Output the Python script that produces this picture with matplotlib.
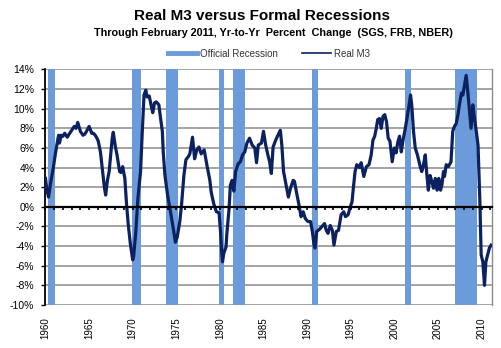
import matplotlib
matplotlib.use('Agg')
import matplotlib.pyplot as plt
from matplotlib.lines import Line2D

plt.rcParams['font.family'] = ['Liberation Sans', 'DejaVu Sans']

# Real M3, year-over-year percent change (decimal year, percent)
years = [
    1960.0, 1960.15, 1960.35, 1960.6, 1960.9, 1961.1, 1961.3, 1961.5, 1961.6, 1961.8,
    1962.0, 1962.2, 1962.5, 1962.7, 1963.0, 1963.3, 1963.5, 1963.7, 1964.0, 1964.3,
    1964.5, 1964.7, 1965.0, 1965.3, 1965.5, 1965.7, 1965.9, 1966.05, 1966.3, 1966.5,
    1966.75, 1966.9, 1967.1, 1967.3, 1967.5, 1967.65, 1967.77, 1968.0, 1968.2, 1968.5,
    1968.65, 1968.85, 1969.1, 1969.3, 1969.5, 1969.75, 1970.0, 1970.1, 1970.35, 1970.6,
    1970.9, 1971.1, 1971.3, 1971.5, 1971.65, 1971.9, 1972.1, 1972.3, 1972.5, 1972.7,
    1973.0, 1973.2, 1973.4, 1973.5, 1973.7, 1974.0, 1974.2, 1974.6, 1974.9, 1975.1,
    1975.4, 1975.6, 1975.87, 1976.1, 1976.36, 1976.55, 1976.86, 1977.1, 1977.35, 1977.6,
    1977.85, 1978.2, 1978.5, 1978.85, 1979.0, 1979.3, 1979.6, 1979.9, 1980.07, 1980.2,
    1980.3, 1980.45, 1980.7, 1980.8, 1981.05, 1981.2, 1981.4, 1981.6, 1981.8, 1982.1,
    1982.35, 1982.6, 1982.85, 1983.1, 1983.4, 1983.7, 1984.0, 1984.2, 1984.4, 1984.76,
    1985.0, 1985.25, 1985.5, 1985.7, 1985.9, 1986.1, 1986.4, 1986.65, 1986.93, 1987.1,
    1987.3, 1987.6, 1987.85, 1988.1, 1988.4, 1988.55, 1988.8, 1989.07, 1989.3, 1989.55,
    1989.8, 1990.1, 1990.4, 1990.6, 1990.8, 1990.9, 1991.1, 1991.4, 1991.7, 1992.0,
    1992.2, 1992.4, 1992.65, 1992.9, 1993.08, 1993.35, 1993.6, 1993.9, 1994.2, 1994.4,
    1994.7, 1994.95, 1995.15, 1995.3, 1995.5, 1995.7, 1996.0, 1996.2, 1996.5, 1996.8,
    1997.1, 1997.35, 1997.55, 1997.75, 1997.93, 1998.1, 1998.3, 1998.5, 1998.7, 1998.9,
    1999.1, 1999.3, 1999.5, 1999.76, 2000.0, 2000.2, 2000.4, 2000.6, 2000.8, 2001.0,
    2001.2, 2001.45, 2001.7, 2001.86, 2002.0, 2002.2, 2002.4, 2002.65, 2002.97, 2003.15,
    2003.35, 2003.55, 2003.7, 2003.9, 2004.1, 2004.3, 2004.5, 2004.7, 2004.9, 2005.1,
    2005.2, 2005.3, 2005.45, 2005.64, 2005.76, 2005.95, 2006.2, 2006.5, 2006.7, 2006.9,
    2007.1, 2007.3, 2007.5, 2007.7, 2007.86, 2008.05, 2008.24, 2008.43, 2008.6, 2008.8,
    2009.0, 2009.2, 2009.4, 2009.6, 2009.8, 2009.96, 2010.15, 2010.34, 2010.5, 2010.7,
    2010.9, 2011.1,
]
real_m3 = [
    2.9, 1.8, 1.0, 2.5, 4.0, 5.2, 6.3, 7.3, 6.5, 7.3,
    7.2, 7.5, 7.1, 7.4, 7.8, 8.2, 8.0, 8.6, 7.7, 7.3,
    7.4, 7.7, 8.2, 7.5, 7.5, 7.3, 7.0, 6.7, 5.6, 4.0,
    2.0, 1.2, 2.7, 3.6, 5.6, 7.0, 7.6, 6.2, 5.3, 3.6,
    3.5, 4.1, 2.9, 0.2, -1.9, -3.9, -5.4, -5.1, -2.6, 0.9,
    3.6, 7.7, 11.4, 11.9, 11.2, 11.3, 10.4, 9.6, 10.6, 10.7,
    10.4, 9.0, 7.7, 5.6, 3.2, 1.2, 0.2, -1.9, -3.6, -3.1,
    -1.5, 0.2, 3.2, 4.8, 5.1, 5.4, 7.1, 4.9, 5.8, 6.1,
    5.4, 5.8, 4.3, 2.7, 1.5, 0.3, -0.5, -0.6, -2.5, -4.6,
    -5.6, -4.7, -4.1, -2.7, -0.2, 2.2, 2.7, 1.6, 3.6, 4.4,
    4.6, 5.3, 5.6, 6.5, 7.0, 6.3, 6.0, 4.5, 6.3, 6.5,
    7.7, 6.3, 5.3, 4.6, 3.4, 6.1, 6.8, 7.3, 7.8, 6.3,
    3.6, 2.2, 1.0, 1.9, 2.7, 2.6, 1.4, 0.2, -1.0, -0.5,
    -1.2, -1.5, -1.5, -2.5, -3.9, -4.2, -2.5, -2.3, -2.0, -1.7,
    -2.4, -2.7, -1.9, -2.4, -3.9, -2.5, -2.4, -0.8, -0.5, -1.0,
    -0.8, 0.0, 0.5, 1.9, 3.6, 4.3, 4.0, 4.5, 3.1, 4.1,
    4.3, 5.3, 6.8, 7.2, 8.0, 8.9, 9.0, 8.0, 9.2, 9.4,
    8.7, 7.0, 6.7, 4.6, 6.0, 5.5, 6.6, 7.2, 5.6, 6.8,
    7.7, 9.0, 10.4, 11.4, 10.4, 7.7, 6.0, 5.3, 4.1, 3.6,
    4.3, 5.3, 3.6, 1.7, 3.2, 2.6, 1.9, 2.9, 1.7, 2.9,
    2.1, 1.7, 2.2, 3.6, 3.1, 4.3, 4.1, 4.6, 7.7, 8.2,
    8.5, 9.4, 10.6, 11.6, 11.4, 12.4, 13.4, 11.7, 10.0, 8.0,
    10.4, 9.0, 7.7, 6.3, 0.9, -4.9, -5.6, -8.0, -5.6, -4.9,
    -4.2, -3.9,
]

# NBER recession periods (start, end) as decimal years
recession_start = [1960.25, 1969.92, 1973.85, 1979.95, 1981.45, 1990.55, 2001.2, 2007.0]
recession_end = [1961.05, 1970.9, 1975.15, 1980.5, 1982.85, 1991.25, 2001.9, 2009.5]

year_ticks = [1960, 1965, 1970, 1975, 1980, 1985, 1990, 1995, 2000, 2005, 2010]
pct_ticks = [-10, -8, -6, -4, -2, 0, 2, 4, 6, 8, 10, 12, 14]

band_color = '#6B9BDB'
line_color = '#0B2160'
grid_color = '#8C8C8C'

fig = plt.figure(figsize=(5.01, 3.48), dpi=100)
ax = fig.add_axes([0.0908, 0.1236, 0.8912, 0.6767])

# Recession shading
for start, end in zip(recession_start, recession_end):
    ax.axvspan(start, end, color=band_color, lw=0, zorder=1)

# Horizontal gridlines
for p in pct_ticks:
    if p != 0:
        ax.axhline(p, color=grid_color, lw=1.1, zorder=0.5)

ax.plot(years, real_m3, color=line_color, lw=2.3, zorder=3, solid_joinstyle='round')

ax.set_xlim(1960, 2011.2)
ax.set_ylim(-10, 14)
ax.set_yticks(pct_ticks)
ax.set_yticklabels([f'{p}%' for p in pct_ticks])
ax.set_xticks(year_ticks)
ax.set_xticklabels([str(y) for y in year_ticks], rotation=90)
ax.tick_params(axis='x', length=0, pad=9, labelsize=7)
ax.tick_params(axis='y', direction='out', length=3, width=1, pad=5, labelsize=7.5)

for side in ['top', 'bottom']:
    ax.spines[side].set_visible(False)
ax.spines['right'].set_color(grid_color)
ax.spines['right'].set_linewidth(1.0)
ax.spines['left'].set_color('black')
ax.spines['left'].set_linewidth(1.3)

# Zero line carrying yearly tick marks
zero_axis = ax.secondary_xaxis(10 / 24)
zero_axis.set_xticks(range(1960, 2012))
zero_axis.tick_params(direction='out', length=2.5, width=1.2, labelbottom=False)
zero_axis.spines['bottom'].set_linewidth(1.6)
zero_axis.spines['bottom'].set_color('black')
zero_axis.set_zorder(4)

# Titles
fig.text(0.522, 0.953, 'Real M3 versus Formal Recessions', ha='center', va='center',
         fontsize=11, fontweight='bold')
fig.text(0.545, 0.906, 'Through February 2011, Yr-to-Yr  Percent  Change  (SGS, FRB, NBER)',
         ha='center', va='center', fontsize=7.8, fontweight='bold')

handles = [
    Line2D([], [], color=band_color, lw=3.5),
    Line2D([], [], color=line_color, lw=1.2),
]
fig.legend(handles, ['Official Recession', 'Real M3'], loc='center',
           bbox_to_anchor=(0.537, 0.846), ncol=2, frameon=False, fontsize=7,
           handlelength=3.0, columnspacing=2.5, handletextpad=0.3,
           labelcolor='#333333')

fig.savefig('out.png', dpi=100, facecolor='white')
